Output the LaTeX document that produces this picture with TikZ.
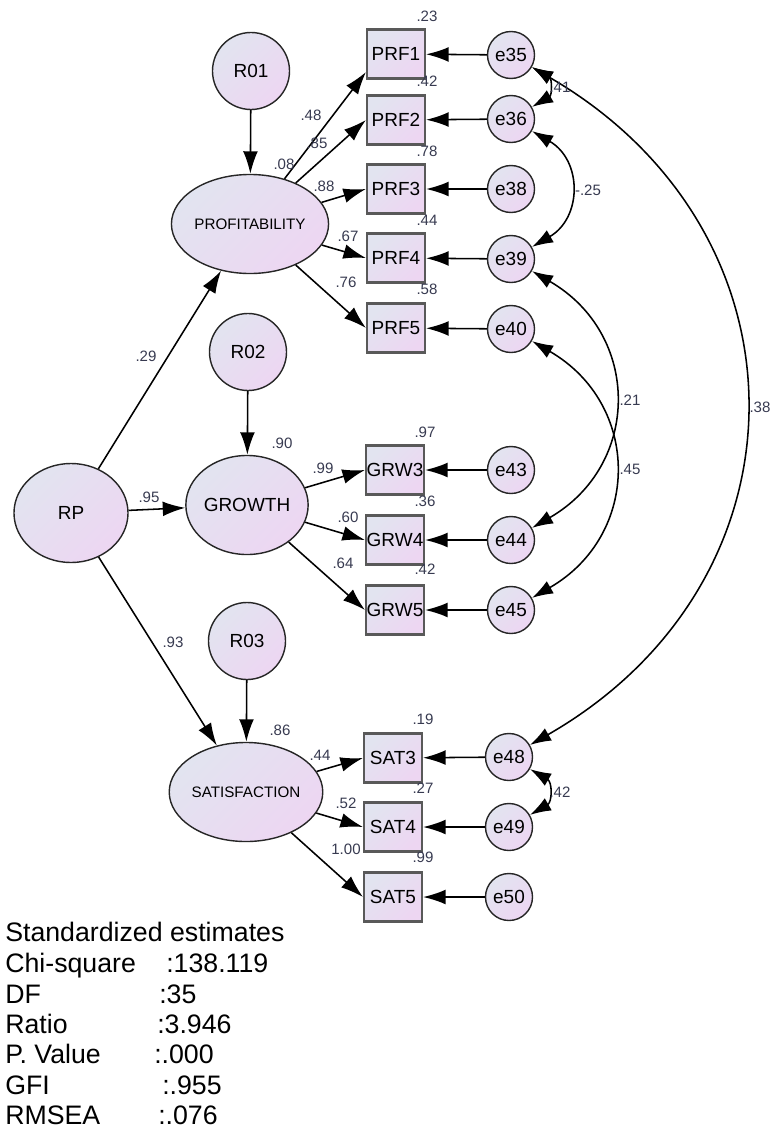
\documentclass[tikz,border=0pt]{standalone}
\usepackage{fontspec}
\setmainfont{Liberation Sans}
\usepackage{xcolor}
\usepackage{tikz}
\usetikzlibrary{shapes.geometric,arrows.meta}
\definecolor{nodefillA}{RGB}{226,228,240}
\definecolor{nodefillB}{RGB}{237,214,242}
\definecolor{esttext}{RGB}{55,58,80}

\begin{document}
\begin{tikzpicture}[x=0.025cm,y=0.025cm]
			\tikzstyle{latent}=[ellipse,draw=black!85,line width=1pt,top color=nodefillA,bottom color=nodefillB,shading angle=45,minimum width=2.85cm,minimum height=2.475cm,inner sep=0pt,font=\fontsize{13.5}{16}\selectfont]
			\tikzstyle{dist}=[circle,draw=black!85,line width=1pt,top color=nodefillA,bottom color=nodefillB,shading angle=45,minimum size=1.925cm,inner sep=0pt,font=\fontsize{13.5}{16}\selectfont]
			\tikzstyle{resid}=[circle,draw=black!85,line width=1pt,top color=nodefillA,bottom color=nodefillB,shading angle=45,minimum size=1.175cm,inner sep=0pt,font=\fontsize{13.5}{16}\selectfont]
			\tikzstyle{obs}=[rectangle,draw=black!65,line width=1.5pt,top color=nodefillA,bottom color=nodefillB,shading angle=45,minimum width=1.45cm,minimum height=1.225cm,inner sep=0pt,font=\fontsize{13.5}{16}\selectfont]
			\tikzstyle{est}=[text=esttext,inner sep=0pt,font=\fontsize{10.7}{12}\selectfont]
			\tikzstyle{stat}=[anchor=base west,inner sep=0pt,font=\fontsize{19}{22}\selectfont]
			\tikzset{edge/.style = {->,> = {Latex[length=16pt,width=10.5pt]},line width=1.1pt}}
			\tikzset{cov/.style = {<->,> = {Latex[length=15pt,width=10pt]},line width=1.1pt}}
			
			\useasboundingbox (0,0) rectangle (773,-1130);
			
			\node[dist](r01) at (251,-71) {R01};
			\node[latent,font=\fontsize{10.8}{12}\selectfont](prof) at (250,-224) {PROFITABILITY};
			\node[dist](r02) at (248,-352) {R02};
			\node[latent](growth) at (247,-505) {GROWTH};
			\node[dist](r03) at (247,-641) {R03};
			\node[latent,font=\fontsize{10.8}{12}\selectfont](satis) at (246,-792) {SATISFACTION};
			\node[latent](rp) at (71,-513) {RP};
			
			\node[obs](prf1) at (396,-54) {PRF1};
			\node[obs](prf2) at (396,-120) {PRF2};
			\node[obs](prf3) at (396,-189) {PRF3};
			\node[obs](prf4) at (396,-258) {PRF4};
			\node[obs](prf5) at (396,-328) {PRF5};
			\node[obs](grw3) at (395,-470) {GRW3};
			\node[obs](grw4) at (395,-540) {GRW4};
			\node[obs](grw5) at (395,-610) {GRW5};
			\node[obs](sat3) at (393,-758) {SAT3};
			\node[obs](sat4) at (393,-827) {SAT4};
			\node[obs](sat5) at (393,-897) {SAT5};
			
			\node[resid](e35) at (511,-55) {e35};
			\node[resid](e36) at (511,-119) {e36};
			\node[resid](e38) at (511,-189) {e38};
			\node[resid](e39) at (511,-259) {e39};
			\node[resid](e40) at (511,-329) {e40};
			\node[resid](e43) at (511,-470) {e43};
			\node[resid](e44) at (511,-540) {e44};
			\node[resid](e45) at (511,-610) {e45};
			\node[resid](e48) at (509,-757) {e48};
			\node[resid](e49) at (509,-827) {e49};
			\node[resid](e50) at (509,-897) {e50};
			
			\draw[edge] (r01) to (prof);
			\draw[edge] (r02) to (growth);
			\draw[edge] (r03) to (satis);
			\draw[edge] (rp) to (prof);
			\draw[edge] (rp) to (growth);
			\draw[edge] (rp) to (satis);
			
			\draw[edge] (prof) to (prf1.211);
			\draw[edge] (prof) to (prf2.west);
			\draw[edge] (prof) to (prf3.west);
			\draw[edge] (prof) to (prf4.west);
			\draw[edge] (prof) to (prf5.west);
			\draw[edge] (growth) to (grw3.west);
			\draw[edge] (growth) to (grw4.west);
			\draw[edge] (growth) to (grw5.west);
			\draw[edge] (satis) to (sat3.west);
			\draw[edge] (satis) to (sat4.west);
			\draw[edge] (satis) to (sat5.west);
			
			\draw[edge] (e35) to (prf1);
			\draw[edge] (e36) to (prf2);
			\draw[edge] (e38) to (prf3);
			\draw[edge] (e39) to (prf4);
			\draw[edge] (e40) to (prf5);
			\draw[edge] (e43) to (grw3);
			\draw[edge] (e44) to (grw4);
			\draw[edge] (e45) to (grw5);
			\draw[edge] (e48) to (sat3);
			\draw[edge] (e49) to (sat4);
			\draw[edge] (e50) to (sat5);
			
			\draw[cov] (e35) to[bend left=60,looseness=1.5] (e36);
			\draw[cov] (e36) to[bend left=60,looseness=1.29] (e39);
			\draw[cov] (e39) to[bend left=60,looseness=1.26] (e44);
			\draw[cov] (e40) to[bend left=60,looseness=1.26] (e45);
			\draw[cov] (e35) to[bend left=60,looseness=1.24] (e48);
			\draw[cov] (e48) to[bend left=60,looseness=1.45] (e49);
			
			\node[est](l41) at (560,-87) {.41};
			\node[est](l25) at (588,-190) {-.25};
			\node[est](l21) at (630,-400) {.21};
			\node[est](l45) at (630,-469) {.45};
			\node[est](l38) at (760,-407) {.38};
			\node[est](l42) at (560,-792) {.42};
			
			\node[est](q1) at (427,-16) {.23};
			\node[est](q2) at (427,-81) {.42};
			\node[est](q3) at (427,-151) {.78};
			\node[est](q4) at (427,-220) {.44};
			\node[est](q5) at (427,-289) {.58};
			\node[est](q6) at (425,-432) {.97};
			\node[est](q7) at (425,-501) {.36};
			\node[est](q8) at (425,-569) {.42};
			\node[est](q9) at (423,-719) {.19};
			\node[est](q10) at (423,-788) {.27};
			\node[est](q11) at (423,-857) {.99};
			\node[est](q12) at (284,-164) {.08};
			\node[est](q13) at (282,-443) {.90};
			\node[est](q14) at (280,-730) {.86};
			
			\node[est](w1) at (311,-115) {.48};
			\node[est](w2) at (317,-143) {.85};
			\node[est](w3) at (324,-186) {.88};
			\node[est](w4) at (348,-236) {.67};
			\node[est](w5) at (346,-282) {.76};
			\node[est](w6) at (323,-468) {.99};
			\node[est](w7) at (348,-517) {.60};
			\node[est](w8) at (343,-563) {.64};
			\node[est](w9) at (320,-755) {.44};
			\node[est](w10) at (346,-803) {.52};
			\node[est](w11) at (346,-849) {1.00};
			\node[est](w12) at (149,-497) {.95};
			\node[est](w13) at (173,-642) {.93};
			\node[est](w14) at (146,-356) {.29};
			
			\node[stat](title) at (5,-941) {Standardized estimates};
			\node[stat](chi) at (5,-972) {Chi-square};
			\node[stat](chiv) at (166,-972) {:138.119};
			\node[stat](df) at (5,-1003) {DF};
			\node[stat](dfv) at (159,-1003) {:35};
			\node[stat](ratio) at (5,-1033) {Ratio};
			\node[stat](ratiov) at (157,-1033) {:3.946};
			\node[stat](pval) at (5,-1063) {P. Value};
			\node[stat](pvalv) at (154,-1063) {:.000};
			\node[stat](gfi) at (5,-1094) {GFI};
			\node[stat](gfiv) at (162,-1094) {:.955};
			\node[stat](rmsea) at (5,-1124) {RMSEA};
			\node[stat](rmseav) at (158,-1124) {:.076};
			\end{tikzpicture}
\end{document}
